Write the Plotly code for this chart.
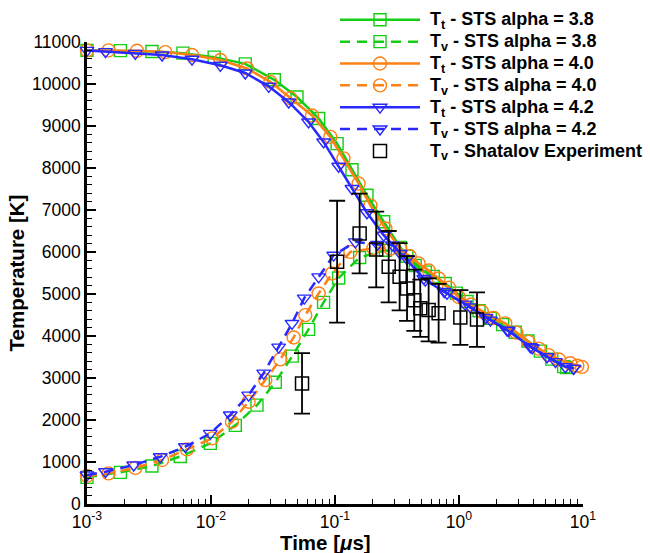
import plotly.graph_objects as go

# ---------------- data ----------------
# T_t, STS alpha = 3.8 (green squares)
t_tt38 = [0.001, 0.00186, 0.00334, 0.00594, 0.0106, 0.0189, 0.0324, 0.0494, 0.0738, 0.104,
          0.137, 0.181, 0.247, 0.336, 0.444, 0.535, 0.775, 1.16, 1.79, 2.84, 4.53, 6.98]
T_tt38 = [10800, 10795, 10775, 10735, 10640, 10480, 10100, 9690, 9180, 8580,
          7960, 7350, 6720, 6110, 5680, 5520, 5250, 4820, 4420, 4090, 3640, 3270]
# T_v, STS alpha = 3.8
t_tv38 = [0.001, 0.00186, 0.00334, 0.00565, 0.00987, 0.0157, 0.0235, 0.033, 0.0452, 0.0612,
          0.0809, 0.107, 0.158, 0.255, 0.38, 0.62, 0.95, 1.45, 2.25, 3.6, 5.6, 7.4]
T_tv38 = [635, 754, 904, 1130, 1444, 1872, 2355, 2898, 3521, 4157,
          4801, 5382, 5870, 6043, 5900, 5420, 5020, 4600, 4270, 3880, 3450, 3250]
# T_t, STS alpha = 4.0 (orange circles)
t_tt40 = [0.001, 0.00149, 0.00253, 0.00428, 0.00703, 0.0119, 0.0195, 0.0301, 0.0437, 0.0653,
          0.0916, 0.117, 0.155, 0.193, 0.255, 0.336, 0.472, 0.685, 0.993, 1.53, 2.36, 3.64,
          5.28, 7.9, 9.8]
T_tt40 = [10800, 10800, 10790, 10760, 10690, 10570, 10370, 10050, 9660, 9250,
          8740, 8230, 7630, 7110, 6560, 6080, 5730, 5370, 4930, 4580, 4300, 3860,
          3545, 3350, 3265]
# T_v, STS alpha = 4.0
t_tv40 = [0.001, 0.00149, 0.00245, 0.00403, 0.0064, 0.0102, 0.01476, 0.0201, 0.0274, 0.0362,
          0.0464, 0.0576, 0.0738, 0.0946, 0.133, 0.204, 0.28, 0.40, 0.57, 0.83, 1.25, 1.9,
          2.9, 4.4, 6.4, 9.0]
T_tv40 = [670, 730, 860, 1047, 1300, 1563, 1958, 2434, 2950, 3443,
          3966, 4497, 5013, 5489, 6003, 6090, 6080, 5900, 5560, 5150, 4750, 4430,
          4080, 3700, 3440, 3290]
# T_t, STS alpha = 4.2 (blue down-triangles)
t_tt42 = [0.001, 0.00141, 0.00245, 0.00403, 0.00703, 0.0119, 0.0189, 0.0292, 0.0423, 0.0612,
          0.0809, 0.107, 0.137, 0.181, 0.247, 0.336, 0.535, 0.80, 1.23, 1.79, 2.44, 3.76,
          5.13, 7.2, 8.4]
T_tt42 = [10800, 10770, 10730, 10690, 10590, 10445, 10262, 9945, 9572, 9096,
          8620, 8042, 7511, 6935, 6400, 5965, 5330, 5013, 4694, 4378, 4140, 3743,
          3505, 3267, 3229]
# T_v, STS alpha = 4.2
t_tv42 = [0.001, 0.00141, 0.00238, 0.0039, 0.00621, 0.00987, 0.0143, 0.0201, 0.0266, 0.0351,
          0.045, 0.0565, 0.0738, 0.0975, 0.146, 0.22, 0.29, 0.38, 0.52, 0.76, 1.12, 1.65,
          2.5, 3.9, 6.0, 8.4]
T_tv42 = [690, 769, 928, 1125, 1364, 1682, 2118, 2593, 3117, 3735,
          4299, 4901, 5408, 5924, 6241, 6180, 6170, 5840, 5370, 5060, 4760, 4440,
          4130, 3720, 3390, 3230]
# T_v, Shatalov experiment
t_exp = [0.0542, 0.104, 0.158, 0.215, 0.271, 0.332, 0.381, 0.436, 0.487, 0.569, 0.685, 1.025, 1.397]
T_exp = [2870, 5770, 6440, 6060, 5650, 5410, 5130, 4850, 4660, 4620, 4540, 4440, 4390]
E_exp = [720, 1450, 950, 900, 850, 800, 770, 730, 680, 750, 700, 650, 650]

x_tickvals = [0.001, 0.01, 0.1, 1, 10]
x_ticktext = ["10<sup>-3</sup>", "10<sup>-2</sup>", "10<sup>-1</sup>", "10<sup>0</sup>", "10<sup>1</sup>"]
x_minorvals = [m * 10.0 ** e for e in (-3, -2, -1, 0) for m in range(2, 10)]

GREEN = "rgb(20,205,20)"
ORANGE = "rgb(255,128,20)"
BLUE = "rgb(40,40,255)"
DASH = "10px,7px"
FONT = "Liberation Sans, Arial"

fig = go.Figure()


def label(s):
    # legend rows keep the reference spacing; the text itself is drawn larger
    return "<span style='font-size:18px'>\u00a0" + s + "</span>"


def add(t, T, name, color, symbol, dash, size):
    fig.add_trace(go.Scatter(
        x=t, y=T, name=label(name), mode="lines+markers", cliponaxis=False,
        line=dict(color=color, width=2.5, dash=dash),
        marker=dict(symbol=symbol, size=size, color=color, line=dict(width=1.4, color=color)),
    ))


add(t_tt38, T_tt38, "T<sub>t</sub> - STS alpha = 3.8", GREEN, "square-open", "solid", 12)
add(t_tv38, T_tv38, "T<sub>v</sub> - STS alpha = 3.8", GREEN, "square-open", DASH, 12)
add(t_tt40, T_tt40, "T<sub>t</sub> - STS alpha = 4.0", ORANGE, "circle-open", "solid", 13)
add(t_tv40, T_tv40, "T<sub>v</sub> - STS alpha = 4.0", ORANGE, "circle-open", DASH, 13)
add(t_tt42, T_tt42, "T<sub>t</sub> - STS alpha = 4.2", BLUE, "triangle-down-open", "solid", 12)
add(t_tv42, T_tv42, "T<sub>v</sub> - STS alpha = 4.2", BLUE, "triangle-down-open", DASH, 12)

fig.add_trace(go.Scatter(
    x=t_exp, y=T_exp, name=label("T<sub>v</sub> - Shatalov Experiment"), mode="markers", cliponaxis=False,
    marker=dict(symbol="square-open", size=13, color="black", line=dict(width=1.5, color="black")),
    error_y=dict(type="data", array=E_exp, visible=True, color="black", thickness=1.8, width=8),
))

axis_common = dict(
    showline=True, linewidth=2.5, linecolor="black", mirror=False,
    ticks="inside", ticklen=9, tickwidth=2, tickcolor="black",
    showgrid=False, zeroline=False,
    tickfont=dict(family=FONT, size=17.5, color="black"),
)

fig.update_layout(
    width=650, height=553,
    margin=dict(l=87, r=67, t=42, b=49, autoexpand=False),
    paper_bgcolor="white", plot_bgcolor="white",
    font=dict(family=FONT, color="black"),
    xaxis=dict(
        type="log", range=[-3, 1], tickmode="array", tickvals=x_tickvals, ticktext=x_ticktext,
        minor=dict(tickmode="array", tickvals=x_minorvals, ticks="inside", ticklen=5,
                   tickwidth=1, tickcolor="black", showgrid=False),
        **axis_common,
    ),
    yaxis=dict(
        range=[0, 11000], tickmode="linear", tick0=0, dtick=1000, tickformat="d",
        minor=dict(dtick=200, ticks="inside", ticklen=5, tickwidth=1, tickcolor="black", showgrid=False),
        title=dict(text="<b>Temperature [K]</b>", font=dict(size=20.5), standoff=2),
        **axis_common,
    ),
    legend=dict(
        x=0.50, xref="paper", y=0.993, yref="container", xanchor="left", yanchor="top",
        bgcolor="rgba(0,0,0,0)", borderwidth=0,
        font=dict(family=FONT, size=14.5, color="black", weight="bold"),
        itemwidth=80, tracegroupgap=0,
    ),
    annotations=[dict(
        text="<b>Time [<i>μ</i>s]</b>", xref="paper", yref="paper", x=0.4805, y=-0.0825,
        xanchor="center", yanchor="middle", showarrow=False,
        font=dict(family=FONT, size=20.5, color="black"),
    )],
    showlegend=True,
)

fig.write_html("out.html")
